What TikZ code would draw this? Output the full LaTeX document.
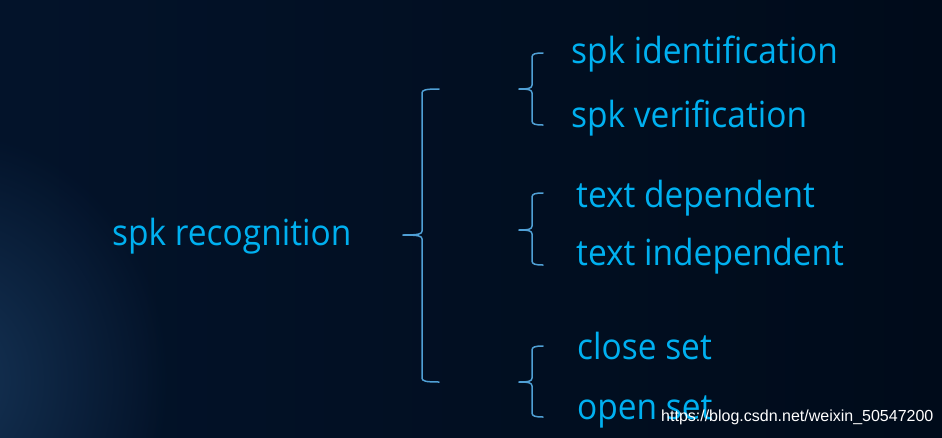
\documentclass[tikz,border=0pt]{standalone}
\usepackage{fontspec}
\setmainfont{Open Sans}[FakeStretch=0.93]
\newfontfamily\wmfont{Liberation Sans}
\usetikzlibrary{fadings}
\tikzfading[name=glowfade, inner color=transparent!0, outer color=transparent!100]
\definecolor{bgL}{RGB}{3,19,42}
\definecolor{bgR}{RGB}{0,11,26}
\definecolor{glowc}{RGB}{22,52,86}
\definecolor{txtc}{RGB}{0,176,240}
\definecolor{brc}{RGB}{80,160,214}
\tikzset{
  lbl/.style={anchor=base west, inner sep=0pt, text=txtc, font=\fontsize{36}{36}\selectfont},
  wm/.style={anchor=base west, inner sep=0pt, text=white, font=\wmfont\fontsize{16}{16}\selectfont},
  brline/.style={draw=brc, line width=1.5pt, line cap=round, line join=round}
}
\newcommand\mybrace[6]{% x, top, mid, bot, tip, arm
  \draw[brline] (#6,#2) .. controls (#1+3,#2) and (#1,#2+1) .. (#1,#2+4)
     -- (#1,#3-4) .. controls (#1,#3-1) and (#1-3,#3) .. (#5,#3);
  \draw[brline] (#6,#4) .. controls (#1+3,#4) and (#1,#4-1) .. (#1,#4-4)
     -- (#1,#3+4) .. controls (#1,#3+1) and (#1-3,#3) .. (#5,#3);
}
\begin{document}
\begin{tikzpicture}[x=1pt,y=-1pt]
\useasboundingbox (0,0) rectangle (942,437);
\shade[left color=bgL, right color=bgR] (0,0) rectangle (942,437);
\begin{scope}
\clip (0,0) rectangle (942,437);
\fill[glowc, path fading=glowfade] (-50,380) ellipse (220 and 250);
\end{scope}
% texts
\node[lbl] (root) at (112,245) {spk recognition};
\node[lbl] (a1) at (571,63) {spk identification};
\node[lbl] (a2) at (571,127) {spk verification};
\node[lbl] (b1) at (576,207) {text dependent};
\node[lbl] (b2) at (576,265) {text independent};
\node[lbl] (c1) at (577,359) {close set};
\node[lbl] (c2) at (577,419) {open set};
% braces
\mybrace{422}{89}{235}{382}{403}{439}
\mybrace{532}{53}{89}{125}{519}{543}
\mybrace{532}{193}{230}{265}{519}{543}
\mybrace{532}{346}{382}{417}{519}{543}
% watermark
\node[wm] (wmk) at (661,421) {https://blog.csdn.net/weixin\_50547200};
\end{tikzpicture}
\end{document}
